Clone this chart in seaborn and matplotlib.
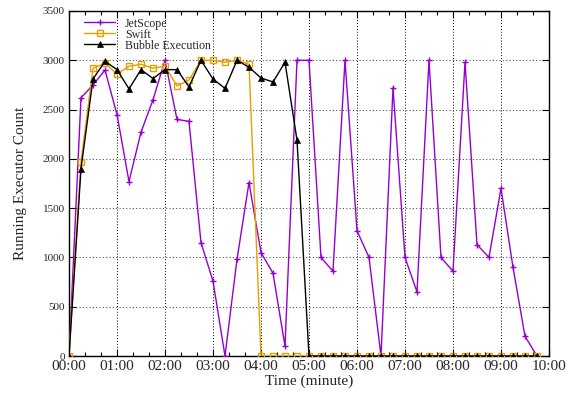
import numpy as np
import pandas as pd
import matplotlib
matplotlib.use("Agg")
import matplotlib.pyplot as plt
import seaborn as sns
from matplotlib.ticker import MultipleLocator, FixedLocator

# time in minutes (samples every 15 s)
time_min = [i * 0.25 for i in range(40)]

jetscope = [0, 2620, 2750, 2900, 2450, 1770, 2270, 2600, 3000, 2400,
            2380, 1150, 760, 0, 980, 1760, 1050, 840, 100, 3000,
            3000, 1000, 860, 3000, 1270, 1000, 0, 2720, 1000, 650,
            3000, 1000, 860, 2980, 1130, 1000, 1700, 900, 200, 0]

swift = [0, 1970, 2920, 2970, 2860, 2940, 2960, 2920, 2940, 2740,
         2800, 3000, 3000, 2980, 3000, 2960, 0, 0, 0, 0,
         0, 0, 0, 0, 0, 0, 0, 0, 0, 0,
         0, 0, 0, 0, 0, 0, 0, 0, 0, 0]

bubble = [0, 1900, 2810, 2990, 2905, 2710, 2905, 2815, 2905, 2905,
          2730, 3000, 2810, 2715, 3000, 2930, 2820, 2780, 2980, 2190,
          0, 0, 0, 0, 0, 0, 0, 0, 0, 0,
          0, 0, 0, 0, 0, 0, 0, 0, 0, 0]

x_tick_vals = list(range(11))
x_tick_labels = ["00:00", "01:00", "02:00", "03:00", "04:00", "05:00",
                 "06:00", "07:00", "08:00", "09:00", "10:00"]

sns.set_theme(style="ticks")
plt.rcParams["font.family"] = ["Liberation Serif", "DejaVu Serif"]

fig = plt.figure(figsize=(5.77, 3.98), dpi=100)
ax = fig.add_axes([69 / 577, 42 / 398, 480 / 577, 345 / 398])

df_j = pd.DataFrame({"t": time_min, "v": jetscope})
df_s = pd.DataFrame({"t": time_min, "v": swift})
df_b = pd.DataFrame({"t": time_min, "v": bubble})

sns.lineplot(data=df_j, x="t", y="v", ax=ax, color="#9400D3", lw=1.0,
             marker="+", markersize=4.5, markeredgewidth=1.0,
             markeredgecolor="#9400D3",
             label="JetScope", zorder=3)
sns.lineplot(data=df_s, x="t", y="v", ax=ax, color="#E69F00", lw=1.0,
             marker="s", markersize=4.2, markerfacecolor="none",
             markeredgecolor="#E69F00", markeredgewidth=1.0,
             label="Swift", zorder=4)
sns.lineplot(data=df_b, x="t", y="v", ax=ax, color="black", lw=1.0,
             marker="^", markersize=4.5, markeredgewidth=0.5,
             markeredgecolor="black", markerfacecolor="black",
             label="Bubble Execution", zorder=5)

ax.set_xlim(0, 10)
ax.set_ylim(0, 3500)
ax.xaxis.set_major_locator(FixedLocator(x_tick_vals))
ax.set_xticklabels(x_tick_labels, fontsize=11)
ax.xaxis.set_minor_locator(MultipleLocator(1 / 3))
ax.yaxis.set_major_locator(MultipleLocator(500))
ax.tick_params(axis="y", labelsize=8)

ax.tick_params(which="both", direction="in", top=True, right=True,
               color="black", width=0.8)
ax.tick_params(which="major", length=5, pad=3)
ax.tick_params(which="minor", length=3)
ax.tick_params(axis="x", which="major", pad=3)

ax.xaxis.grid(True, which="major", color="black", linestyle=(0, (1, 2)), linewidth=0.7)
ax.yaxis.grid(True, which="major", color="#555555", linestyle=(0, (1, 2)), linewidth=0.8)
for sp in ax.spines.values():
    sp.set_color("black")
    sp.set_linewidth(1.0)

ax.set_xlabel("Time (minute)", fontsize=11, labelpad=1)
ax.set_ylabel("Running Executor Count", fontsize=11, labelpad=11)

leg = ax.legend(loc="upper left", frameon=False, fontsize=8.6,
                handlelength=2.6, handletextpad=0.8, borderaxespad=0.0,
                labelspacing=-0.08, bbox_to_anchor=(0.022, 0.995))

fig.savefig("out.png", dpi=100)
